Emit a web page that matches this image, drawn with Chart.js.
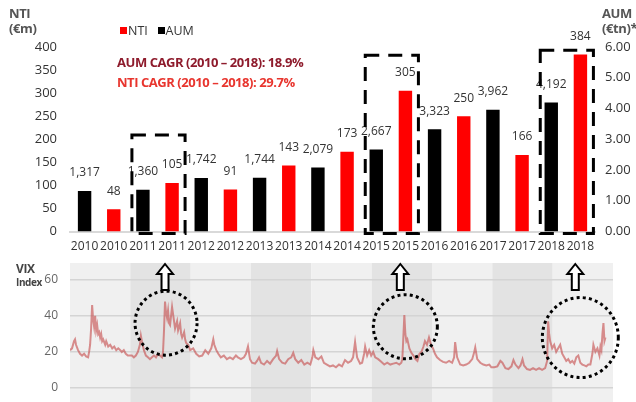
<!DOCTYPE html>
<html lang="en">
<head>
<meta charset="utf-8">
<title>NTI / AUM and VIX</title>
<script src="https://cdn.jsdelivr.net/npm/chart.js"></script>
<style>
  body { margin: 0; width: 636px; height: 402px; overflow: hidden; background: #fff; position: relative; font-family: "Open Sans", sans-serif; }
  canvas { position: absolute; left: 0; }
  #topChart { top: 0; }
  #vixChart { top: 255px; }
  .txt { position: absolute; white-space: nowrap; }
  .axisTitle { font-weight: bold; font-size: 13px; line-height: 15px; color: #555; letter-spacing: -0.4px; }
  .sq { display: inline-block; width: 7px; height: 7px; margin-right: 1px; vertical-align: 1px; }
  .cagr { font-weight: bold; font-size: 13px; letter-spacing: -0.45px; }
</style>
</head>
<body>

<canvas id="topChart" width="636" height="255"></canvas>
<canvas id="vixChart" width="636" height="147"></canvas>

<div class="txt axisTitle" style="left:9px; top:6px;">NTI<br>(€m)</div>
<div class="txt axisTitle" style="left:602px; top:6px;">AUM<br>(€tn)*</div>
<div class="txt" style="left:120px; top:22px; font-size:12.5px; color:#333;">
  <span class="sq" style="background:#ff0000"></span>NTI&nbsp;&nbsp;&nbsp;<span class="sq" style="background:#000"></span>AUM
</div>
<div class="txt cagr" style="left:117px; top:53px; color:#8e1b2c;">AUM CAGR (2010 – 2018): 18.9%</div>
<div class="txt cagr" style="left:117px; top:73px; color:#e8352e;">NTI CAGR (2010 – 2018): 29.7%</div>
<div class="txt" style="left:16px; top:260px; font-weight:bold; font-size:12px; color:#444; letter-spacing:-0.4px;">VIX</div>
<div class="txt" style="left:16px; top:275px; font-weight:bold; font-size:10px; color:#444; letter-spacing:-0.4px;">Index</div>

<script>
// ---- data ----
const years = ['2010', '2011', '2012', '2013', '2014', '2015', '2016', '2017', '2018'];
const aumBn = [1317, 1360, 1742, 1744, 2079, 2667, 3323, 3962, 4192];   // € bn, plotted in € tn
const ntiM = [48, 105, 91, 143, 173, 305, 250, 166, 384];               // € m
const ntiTicks = [0, 50, 100, 150, 200, 250, 300, 350, 400];
const aumTicks = [0, 1, 2, 3, 4, 5, 6];
// highlighted years (boxes) and the NTI level of the box top
const boxYears = ['2011', '2015', '2018'];
const boxTop = [209, 382, 393];

// VIX: [months since Jan 2010, index level]
const vixPoints = [
  [0,21],[0.4,22],[0.8,26],[1.0,27],[1.2,24],[1.6,21],[2.0,19],[2.4,18],[2.8,19],[3.2,17.5],[3.6,17],[3.8,20],[4.0,24],[4.2,33],[4.4,46],[4.6,38],[4.8,34],[5.0,40],[5.2,32],[5.4,35],[5.6,30],[5.8,31],[6.0,28],[6.2,30],[6.4,26],[6.6,27],[7.0,24],[7.2,26],[7.6,23],[8.0,24],[8.4,22],[8.8,23],[9.2,21],[9.6,22],[10.0,21],[10.3,20],[10.7,21],[11.1,19],[11.5,18],[11.9,18],
  [12.3,18],[12.7,17],[13.1,18],[13.5,20],[13.9,24],[14.1,29],[14.3,26],[14.7,21],[15.1,18],[15.5,17],[15.9,16],[16.3,17],[16.7,18],[17.1,17],[17.5,19],[17.9,18],[18.3,17],[18.5,20],[18.7,32],[18.9,48],[19.1,42],[19.3,39],[19.5,43],[19.7,36],[19.9,35],[20.1,40],[20.3,45],[20.5,41],[20.7,37],[20.9,33],[21.3,37],[21.5,32],[21.7,34],[21.9,36],[22.1,30],[22.3,28],[22.7,31],[22.9,27],[23.1,25],[23.5,24],[23.9,21],
  [24.5,22],[25.1,19],[25.7,17.5],[26.3,18],[26.9,21],[27.5,19],[28.1,22],[28.5,27],[28.7,24],[29.1,21],[29.5,19],[30.0,17],[30.6,18],[31.2,16],[31.8,17],[32.4,16],[33.0,18],[33.4,17],[34.0,16],[34.6,17],[35.0,19],[35.4,23],[35.8,16],
  [36.2,14],[36.8,13.5],[37.2,15],[37.6,17],[38.0,14],[38.6,13],[39.2,15],[39.8,13.5],[40.4,16],[41.0,18],[41.2,20.5],[41.6,16],[42.2,14],[42.8,13.5],[43.4,16],[44.0,17],[44.4,19.5],[44.8,16],[45.4,14],[46.0,15.5],[46.6,13],[47.2,14],[47.8,13],
  [48.2,17],[48.4,21],[48.8,17],[49.4,16],[50.0,17.5],[50.5,14],[51.1,13],[51.7,12],[52.3,12.5],[52.9,11.5],[53.5,13],[54.1,12],[54.7,15.5],[55.3,14],[55.9,15],[56.3,17],[56.7,25.5],[57.1,17],[57.7,13.5],[58.1,14],[58.5,19],[58.7,23],[59.1,18],[59.5,21],[59.9,18],
  [60.3,20],[60.7,17],[61.3,16],[61.9,14.5],[62.5,13],[63.1,14],[63.7,13],[64.3,13.5],[64.9,14],[65.5,13],[65.9,14],[66.1,16],[66.3,28],[66.5,40.5],[66.7,30],[66.9,26],[67.1,27],[67.5,22],[67.9,19.5],[68.3,18],[68.7,16],[69.1,15],[69.5,19],[69.9,20],[70.3,23],[70.6,26],[71.0,24],[71.4,28],[71.8,24],
  [72.2,22],[72.6,19],[73.0,17],[73.6,15.5],[74.2,14.5],[74.8,14],[75.4,15],[76.0,14],[76.4,17],[76.6,25.5],[77.0,17],[77.6,13],[78.2,12.5],[78.8,13],[79.4,14],[80.0,16],[80.4,20],[80.6,22.5],[81.0,16],[81.6,14],[82.2,13],[82.8,12.5],[83.4,13],[83.8,11.5],
  [84.4,11.5],[85.0,12],[85.6,15],[86.0,14],[86.6,11],[87.2,10.5],[87.8,12],[88.2,15.5],[88.6,13],[89.2,11],[89.6,12.5],[90.0,16],[90.3,12.5],[90.9,10.5],[91.5,10],[92.1,11],[92.7,10],[93.3,11],[93.9,10],[94.5,11],[94.9,15],[95.1,37],
  [95.3,30],[95.5,26],[95.9,22],[96.3,24],[96.7,20],[97.1,22],[97.5,24],[97.9,19],[98.3,17],[98.7,15],[99.1,16],[99.5,14],[99.9,15],[100.3,13.5],[100.7,17],[101.1,18],[101.5,14],[101.9,13],[102.3,12.5],[102.7,12],[103.1,13],[103.5,13],[103.9,19],[104.1,24],[104.5,20],[104.9,22],[105.3,18],[105.5,23],[105.7,21],[105.9,30],[106.1,36],[106.3,26],[106.5,28]
];
const vixTicks = [0, 20, 40, 60];
// stress episodes: circle centre (month, level) and arrow position (month)
const eventMonth = [19.1, 66.7, 101.5];
const eventLevel = [36, 34, 28];
const eventRadius = [[31, 32], [32, 32], [38, 40]];
const arrowMonth = [18.9, 65.7, 100.5];

const FONT = 'Open Sans';

// ---- top chart: AUM (black, right axis) and NTI (red, left axis) ----
const barLabels = years.flatMap(y => [y, y]);
const aumData = years.flatMap((y, i) => [aumBn[i] / 1000, null]);
const ntiData = years.flatMap((y, i) => [null, ntiM[i]]);

const barValueLabels = {
  id: 'barValueLabels',
  afterDatasetsDraw(chart) {
    const ctx = chart.ctx;
    ctx.save();
    ctx.font = '12px "' + FONT + '"';
    ctx.fillStyle = '#333';
    ctx.textAlign = 'center';
    ctx.textBaseline = 'middle';
    chart.data.datasets.forEach((ds, di) => {
      chart.getDatasetMeta(di).data.forEach((bar, i) => {
        const v = ds.data[i];
        if (v == null) return;
        const txt = di === 0 ? Math.round(v * 1000).toLocaleString('en-US') : String(v);
        ctx.fillText(txt, bar.x, bar.y - 18);
      });
    });
    ctx.restore();
  }
};

const dashedBoxes = {
  id: 'dashedBoxes',
  afterDatasetsDraw(chart) {
    const ctx = chart.ctx, x = chart.scales.x, y = chart.scales.y;
    ctx.save();
    ctx.strokeStyle = '#000';
    ctx.lineWidth = 3;
    ctx.setLineDash([14, 9]);
    boxYears.forEach((yr, k) => {
      const i = barLabels.indexOf(yr);
      const left = x.getPixelForValue(i) - 11;
      const right = x.getPixelForValue(i + 1) + 13;
      const top = y.getPixelForValue(boxTop[k]);
      const bottom = y.getPixelForValue(0) + 2;
      ctx.strokeRect(left, top, right - left, bottom - top);
    });
    ctx.restore();
  }
};

new Chart(document.getElementById('topChart'), {
  type: 'bar',
  data: {
    labels: barLabels,
    datasets: [
      { label: 'AUM', data: aumData, yAxisID: 'y1', backgroundColor: '#000000' },
      { label: 'NTI', data: ntiData, yAxisID: 'y', backgroundColor: '#ff0000' }
    ]
  },
  options: {
    responsive: false,
    animation: false,
    layout: { padding: { top: 47 } },
    datasets: { bar: { grouped: false, categoryPercentage: 1, barPercentage: 0.46 } },
    plugins: { legend: { display: false }, tooltip: { enabled: false } },
    scales: {
      x: {
        grid: { display: false, drawTicks: false },
        border: { display: true, color: '#d9d9d9', width: 2 },
        ticks: { autoSkip: false, maxRotation: 0, padding: 8, color: '#333', font: { family: FONT, size: 12 } },
        afterFit(s) { s.height = 23.5; }
      },
      y: {
        position: 'left', min: 0, max: 400,
        afterBuildTicks(s) { s.ticks = ntiTicks.map(v => ({ value: v })); },
        grid: { display: false, drawTicks: false },
        border: { display: false },
        ticks: { padding: 13, color: '#333', font: { family: FONT, size: 13 } },
        afterFit(s) { s.width = 70; }
      },
      y1: {
        position: 'right', min: 0, max: 6,
        afterBuildTicks(s) { s.ticks = aumTicks.map(v => ({ value: v })); },
        grid: { display: false, drawTicks: false },
        border: { display: false },
        ticks: { padding: 10, color: '#333', font: { family: FONT, size: 13 }, callback: v => v.toFixed(2) },
        afterFit(s) { s.width = 41; }
      }
    }
  },
  plugins: [barValueLabels, dashedBoxes]
});

// ---- bottom chart: VIX ----
const yearBands = {
  id: 'yearBands',
  beforeDraw(chart) {
    const ctx = chart.ctx, x = chart.scales.x, a = chart.chartArea;
    ctx.save();
    years.forEach((yr, k) => {
      const x0 = x.getPixelForValue(k * 12), x1 = x.getPixelForValue(k * 12 + 12);
      ctx.fillStyle = k % 2 ? '#e3e3e3' : '#f0f0f0';
      ctx.fillRect(x0, a.top, x1 - x0, a.bottom - a.top);
    });
    ctx.restore();
  }
};

const episodes = {
  id: 'episodes',
  afterDraw(chart) {
    const ctx = chart.ctx, x = chart.scales.x, y = chart.scales.y, a = chart.chartArea;
    ctx.save();
    // dotted circles
    ctx.strokeStyle = '#000';
    ctx.lineWidth = 3;
    ctx.setLineDash([3, 3.2]);
    eventMonth.forEach((m, k) => {
      ctx.beginPath();
      ctx.ellipse(x.getPixelForValue(m), y.getPixelForValue(eventLevel[k]), eventRadius[k][0], eventRadius[k][1], 0, 0, Math.PI * 2);
      ctx.stroke();
    });
    // hollow up arrows
    ctx.setLineDash([]);
    ctx.lineWidth = 2;
    ctx.fillStyle = '#fff';
    arrowMonth.forEach(m => {
      const cx = x.getPixelForValue(m), t = a.top + 1;
      ctx.beginPath();
      ctx.moveTo(cx, t);
      ctx.lineTo(cx + 8, t + 10);
      ctx.lineTo(cx + 3.5, t + 10);
      ctx.lineTo(cx + 3.5, t + 26);
      ctx.lineTo(cx - 3.5, t + 26);
      ctx.lineTo(cx - 3.5, t + 10);
      ctx.lineTo(cx - 8, t + 10);
      ctx.closePath();
      ctx.fill();
      ctx.stroke();
    });
    ctx.restore();
  }
};

new Chart(document.getElementById('vixChart'), {
  type: 'line',
  data: {
    datasets: [{
      label: 'VIX',
      data: vixPoints.map(p => ({ x: p[0], y: p[1] })),
      borderColor: 'rgba(200, 85, 85, 0.65)',
      borderWidth: 2,
      pointRadius: 0,
      tension: 0
    }]
  },
  options: {
    responsive: false,
    animation: false,
    layout: { padding: { top: 8, right: 23, bottom: 0 } },
    plugins: { legend: { display: false }, tooltip: { enabled: false } },
    scales: {
      x: { type: 'linear', min: 0, max: 108, display: false },
      y: {
        min: -7.8, max: 69.4,
        afterBuildTicks(s) { s.ticks = vixTicks.map(v => ({ value: v })); },
        grid: { color: '#d4d4d4', lineWidth: 1.5, drawTicks: false },
        border: { display: false },
        ticks: { padding: 12, color: '#666', font: { family: FONT, size: 12 } },
        afterFit(s) { s.width = 70; s.paddingTop = 0; s.paddingBottom = 0; }
      }
    }
  },
  plugins: [yearBands, episodes]
});
</script>
</body>
</html>
